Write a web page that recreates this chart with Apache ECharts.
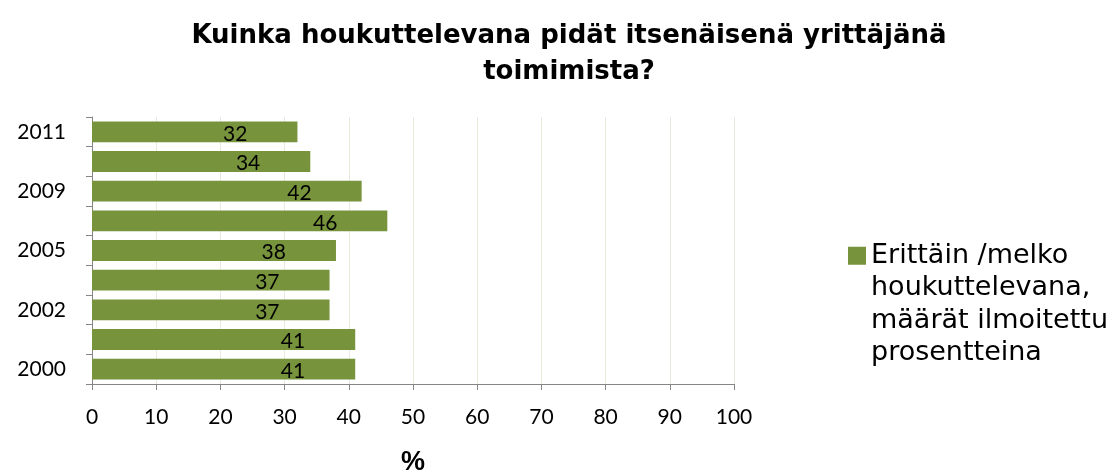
<!DOCTYPE html>
<html>
<head>
<meta charset="utf-8">
<script src="https://cdn.jsdelivr.net/npm/echarts@6/dist/echarts.min.js"></script>
<style>
  html, body { margin: 0; padding: 0; background: #fff; }
  #main { width: 1113px; height: 476px; }
</style>
</head>
<body>
<div id="main"></div>
<script>
// years bottom to top; only every other one is labelled in the original
var years = ['2000', '2001', '2002', '2004', '2005', '2007', '2009', '2010', '2011'];
var values = [41, 41, 37, 37, 38, 46, 42, 34, 32];
var seriesName = 'Erittäin /melko\nhoukuttelevana,\nmäärät ilmoitettu\nprosentteina';

var chartDom = document.getElementById('main');
var myChart = echarts.init(chartDom);
var option;

const barColor = '#77933c';
const axisGray = '#868686';
const tickFont = 'Lato, "Open Sans", sans-serif';

option = {
    animation: false,
    title: {
        text: 'Kuinka houkuttelevana pidät itsenäisenä yrittäjänä\ntoimimista?',
        left: 564,
        top: 13,
        textAlign: 'center',
        textStyle: {
            fontFamily: '"DejaVu Sans", sans-serif',
            fontWeight: 'bold',
            fontSize: 26,
            lineHeight: 36,
            color: '#000'
        }
    },
    legend: {
        left: 843,
        top: 137,
        itemWidth: 18,
        itemHeight: 18,
        itemGap: 0,
        data: [{ name: seriesName, icon: 'rect' }],
        // blank lines above keep the square level with the first text line
        formatter: function (name) {
            return '\n\n\n' + name;
        },
        textStyle: {
            fontFamily: '"DejaVu Sans", sans-serif',
            fontSize: 27,
            lineHeight: 32.5,
            color: '#000'
        }
    },
    grid: {
        left: 92,
        right: 379,
        top: 117,
        bottom: 92,
        outerBoundsMode: 'none'
    },
    xAxis: {
        type: 'value',
        min: 0,
        max: 100,
        interval: 10,
        name: '%',
        nameLocation: 'middle',
        nameGap: 65,
        nameTextStyle: {
            fontFamily: '"Liberation Sans", Arial, sans-serif',
            fontWeight: 'bold',
            fontSize: 27,
            color: '#000'
        },
        axisLine: { show: true, lineStyle: { color: axisGray, width: 1 } },
        axisTick: { show: true, length: 6, lineStyle: { color: axisGray } },
        axisLabel: {
            margin: 23,
            fontFamily: tickFont,
            fontSize: 21,
            color: '#000'
        },
        splitLine: { show: true, lineStyle: { color: '#ebe8dc', width: 1 } }
    },
    yAxis: {
        type: 'category',
        data: years,
        axisLine: { show: true, lineStyle: { color: axisGray, width: 1 } },
        axisTick: { show: true, length: 6, interval: 0, lineStyle: { color: axisGray } },
        axisLabel: {
            interval: 1,
            margin: 26,
            fontFamily: tickFont,
            fontSize: 21,
            color: '#000'
        },
        splitLine: { show: false }
    },
    series: [
        {
            name: seriesName,
            type: 'bar',
            data: values,
            barCategoryGap: '30%',
            itemStyle: { color: barColor },
            label: {
                show: true,
                position: 'insideRight',
                distance: 50,
                offset: [0, 2],
                fontFamily: tickFont,
                fontSize: 21,
                color: '#000'
            }
        }
    ]
};

option && myChart.setOption(option);
</script>
</body>
</html>
